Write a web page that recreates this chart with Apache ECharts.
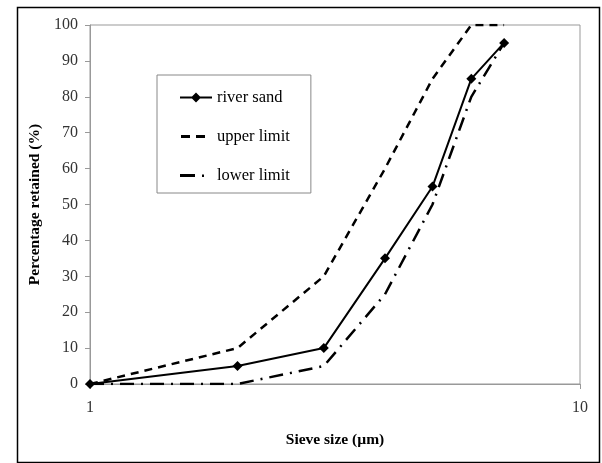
<!DOCTYPE html>
<html>
<head>
<meta charset="UTF-8">
<title>Sieve analysis</title>
<script src="https://cdn.jsdelivr.net/npm/echarts@6/dist/echarts.min.js"></script>
<style>
  body { margin: 0; background: #fff; }
</style>
</head>
<body>
<div id="main" style="width: 602px;height:463px;"></div>
<script type="text/javascript">
// sieve sizes (µm) and percentage retained
var sizes = [1, 2, 3, 4, 5, 6, 7];
var riverSand = [0, 5, 10, 35, 55, 85, 95];
var upperLimit = [0, 10, 30, 60, 85, 100, 100];
var lowerLimit = [0, 0, 5, 25, 50, 80, 95];
var yTicks = [0, 10, 20, 30, 40, 50, 60, 70, 80, 90, 100];

function pairs(ys) {
    return sizes.map(function (x, i) { return [x, ys[i]]; });
}

// legend icons, all on a 32x12 box (corner moves keep the box size)
var box = 'M0,0 L0,0 Z M32,12 L32,12 Z ';
var iconSolid = 'path://' + box + 'M0,5 L32,5 L32,7 L0,7 Z M16,1 L21,6 L16,11 L11,6 Z';
var iconDash = 'path://' + box + 'M1,4.6 L10,4.6 L10,7.4 L1,7.4 Z M16,4.6 L25,4.6 L25,7.4 L16,7.4 Z';
var iconDashDot = 'path://' + box + 'M0,4.6 L15,4.6 L15,7.4 L0,7.4 Z M22,5 L24,5 L24,7.4 L22,7.4 Z';

var myChart = echarts.init(document.getElementById('main'));
var serif = 'Liberation Serif';

var option = {
    backgroundColor: '#fff',
    animation: false,
    graphic: [{
        type: 'rect',
        left: 15, top: 5,
        shape: { width: 582, height: 455 },
        style: { fill: 'none', stroke: '#000', lineWidth: 1.5 },
        silent: true
    }],
    grid: {
        left: 90, right: 22, top: 25, bottom: 79,
        show: true,
        borderColor: '#999',
        borderWidth: 1
    },
    legend: {
        orient: 'vertical',
        left: 157, top: 75,
        padding: [14, 21, 9, 23],
        itemGap: 22,
        itemWidth: 32,
        itemHeight: 12,
        borderColor: '#888',
        borderWidth: 1,
        textStyle: { fontFamily: serif, fontSize: 16.5, color: '#000' },
        data: [
            { name: 'river sand', icon: iconSolid },
            { name: 'upper limit', icon: iconDash },
            { name: 'lower limit', icon: iconDashDot }
        ]
    },
    xAxis: {
        type: 'log',
        logBase: 10,
        min: 1, max: 10,
        name: 'Sieve size (µm)',
        nameLocation: 'middle',
        nameGap: 48,
        nameTextStyle: { fontFamily: serif, fontSize: 15.5, fontWeight: 'bold', color: '#000' },
        axisLine: { lineStyle: { color: '#999' } },
        axisTick: { show: true, length: 5, lineStyle: { color: '#999' } },
        axisLabel: { fontFamily: serif, fontSize: 16, color: '#333', margin: 16 },
        splitLine: { show: false },
        minorTick: { show: false }
    },
    yAxis: {
        type: 'value',
        min: 0, max: 100, interval: 10,
        name: 'Percentage retained (%)',
        nameLocation: 'middle',
        nameGap: 42,
        nameTextStyle: { fontFamily: serif, fontSize: 15.5, fontWeight: 'bold', color: '#000' },
        axisLine: { show: true, lineStyle: { color: '#999' } },
        axisTick: { show: true, length: 5, lineStyle: { color: '#999' } },
        axisLabel: {
            fontFamily: serif, fontSize: 16, color: '#333', margin: 12,
            formatter: function (v) { return yTicks.indexOf(v) >= 0 ? String(v) : ''; }
        },
        splitLine: { show: false }
    },
    series: [
        {
            name: 'river sand',
            type: 'line',
            data: pairs(riverSand),
            symbol: 'diamond',
            symbolSize: 10,
            itemStyle: { color: '#000' },
            lineStyle: { color: '#000', width: 2 },
            z: 3
        },
        {
            name: 'upper limit',
            type: 'line',
            data: pairs(upperLimit),
            symbol: 'none',
            itemStyle: { color: '#000' },
            lineStyle: { color: '#000', width: 2.5, type: [8, 6] }
        },
        {
            name: 'lower limit',
            type: 'line',
            data: pairs(lowerLimit),
            symbol: 'none',
            itemStyle: { color: '#000' },
            lineStyle: { color: '#000', width: 2.5, type: [14, 7, 2, 7] }
        }
    ]
};

myChart.setOption(option);
</script>
</body>
</html>
